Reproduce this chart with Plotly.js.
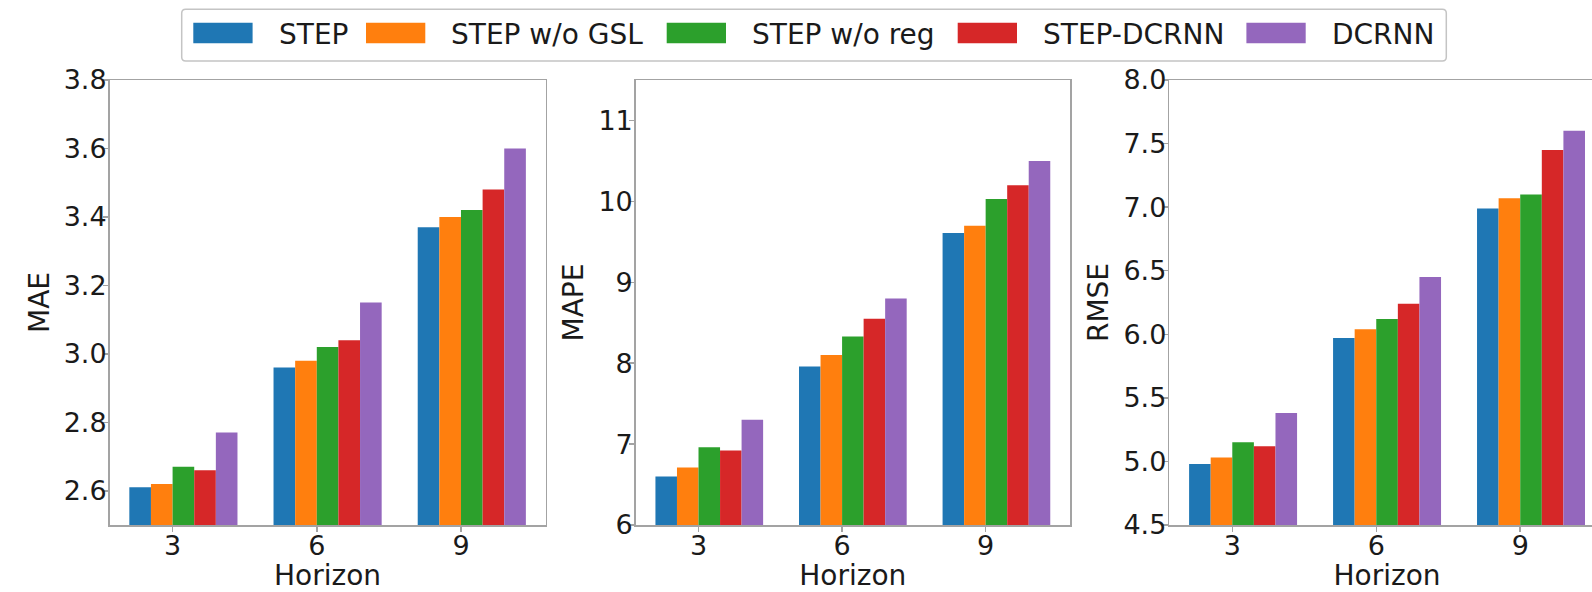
<!DOCTYPE html>
<html>
<head>
<meta charset="utf-8">
<script src="https://cdn.plot.ly/plotly-3.0.1.min.js"></script>
<style>
  html, body { margin: 0; padding: 0; overflow: hidden; background: #fff; }
  #chart { width: 1610px; height: 592px; }
</style>
</head>
<body>
<div id="chart"></div>
<script>
// Prediction horizons (x-axis) and compared models
const horizons = [3, 6, 9];
const models = ['STEP', 'STEP w/o GSL', 'STEP w/o reg', 'STEP-DCRNN', 'DCRNN'];
const colors = ['#1f77b4', '#ff7f0e', '#2ca02c', '#d62728', '#9467bd'];
const metrics = ['MAE', 'MAPE', 'RMSE'];

// One row per model, one column per horizon
const mae = [
  [2.61, 2.96, 3.37],
  [2.62, 2.98, 3.40],
  [2.67, 3.02, 3.42],
  [2.66, 3.04, 3.48],
  [2.77, 3.15, 3.60]
];
const mape = [
  [6.60, 7.96, 9.61],
  [6.71, 8.10, 9.70],
  [6.96, 8.33, 10.03],
  [6.92, 8.55, 10.20],
  [7.30, 8.80, 10.50]
];
const rmse = [
  [4.98, 5.97, 6.99],
  [5.03, 6.04, 7.07],
  [5.15, 6.12, 7.10],
  [5.12, 6.24, 7.45],
  [5.38, 6.45, 7.60]
];

// ---- layout constants (pixels) ----
const W = 1610, H = 592;
const FONT = 'DejaVu Sans, Liberation Sans, sans-serif';
const FS = 27;
const TXT = '#1a1a1a';
const AXC = '#a3a3a3';
const panelX = [[109.5, 545.7], [635.7, 1070], [1169.3, 1604.8]];
const panelTop = 80, panelBottom = 525;
const yRanges = [[2.5, 3.8], [6, 11.5], [4.5, 8]];
const yTick0 = [2.6, 6, 4.5];
const yDticks = [0.2, 1, 0.5];
const yFormats = ['.1f', 'd', '.1f'];
const barW = 0.45;                       // width of one bar in horizon units
const xRange = [1.6875, 10.7625];

const fx = p => p / W;
const fy = p => 1 - p / H;

const tables = [mae, mape, rmse];
const traces = [];
tables.forEach((tbl, k) => {
  const ax = k === 0 ? '' : String(k + 1);
  models.forEach((name, i) => {
    traces.push({
      type: 'bar',
      name: name,
      x: horizons,
      y: tbl[i],
      width: barW,
      offset: (i - 2) * barW,
      marker: { color: colors[i], line: { width: 0 } },
      xaxis: 'x' + ax,
      yaxis: 'y' + ax,
      showlegend: false,
      hovertemplate: name + '<br>Horizon %{x}: %{y}<extra></extra>'
    });
  });
});

const layout = {
  width: W, height: H,
  margin: { l: 0, r: 0, t: 0, b: 0, pad: 0 },
  paper_bgcolor: '#fff', plot_bgcolor: '#fff',
  barmode: 'overlay',
  font: { family: FONT, size: FS, color: TXT },
  showlegend: false,
  shapes: [],
  annotations: []
};

metrics.forEach((m, k) => {
  const ax = k === 0 ? '' : String(k + 1);
  layout['xaxis' + ax] = {
    domain: [fx(panelX[k][0]), fx(panelX[k][1])],
    anchor: 'y' + ax,
    range: xRange,
    tickvals: horizons,
    ticktext: horizons.map(String),
    ticks: 'outside', ticklen: 5, tickwidth: 1.5, tickcolor: AXC,
    ticklabelstandoff: -9,
    showline: true, mirror: true, linecolor: AXC, linewidth: 1.5,
    showgrid: false, zeroline: false,
    tickfont: { family: FONT, size: FS, color: TXT },
    title: { text: 'Horizon', font: { family: FONT, size: FS + 1, color: TXT }, standoff: 9 },
    fixedrange: true
  };
  layout['yaxis' + ax] = {
    domain: [fy(panelBottom), fy(panelTop)],
    anchor: 'x' + ax,
    range: yRanges[k],
    dtick: yDticks[k],
    tick0: yTick0[k],
    tickformat: yFormats[k],
    ticks: 'outside', ticklen: 5, tickwidth: 1.5, tickcolor: AXC,
    ticklabelstandoff: -9,
    showline: true, mirror: k < 2, linecolor: AXC, linewidth: 1.5,
    showgrid: false, zeroline: false,
    tickfont: { family: FONT, size: FS, color: TXT },
    title: { text: m, font: { family: FONT, size: FS + 1, color: TXT }, standoff: 6 },
    fixedrange: true
  };
});

// ---- legend: framed box with one colour patch per model ----
const box = { x0: 181.7, x1: 1446.3, y0: 9.3, y1: 61, r: 4 };
const rx = box.r / W, ry = box.r / H;
const bx0 = fx(box.x0), bx1 = fx(box.x1), by0 = fy(box.y1), by1 = fy(box.y0);
layout.shapes.push({
  type: 'path', xref: 'paper', yref: 'paper',
  path: `M ${bx0 + rx} ${by0} L ${bx1 - rx} ${by0} Q ${bx1} ${by0} ${bx1} ${by0 + ry} ` +
        `L ${bx1} ${by1 - ry} Q ${bx1} ${by1} ${bx1 - rx} ${by1} ` +
        `L ${bx0 + rx} ${by1} Q ${bx0} ${by1} ${bx0} ${by1 - ry} ` +
        `L ${bx0} ${by0 + ry} Q ${bx0} ${by0} ${bx0 + rx} ${by0} Z`,
  line: { color: '#c4c4c4', width: 1.5 },
  fillcolor: 'rgba(255,255,255,0.8)',
  layer: 'above'
});
const slotX = [193.3, 366, 666.7, 957.7, 1246.4];
const patchW = 59.3, patchTop = 22.7, patchBot = 43.3, textGap = 83.4;
models.forEach((name, i) => {
  layout.shapes.push({
    type: 'rect', xref: 'paper', yref: 'paper',
    x0: fx(slotX[i]), x1: fx(slotX[i] + patchW),
    y0: fy(patchBot), y1: fy(patchTop),
    fillcolor: colors[i], line: { width: 0 }, layer: 'above'
  });
  layout.annotations.push({
    xref: 'paper', yref: 'paper',
    x: fx(slotX[i] + textGap), y: fy(34),
    xanchor: 'left', yanchor: 'middle',
    text: name, showarrow: false,
    font: { family: FONT, size: FS + 1, color: TXT }
  });
});

Plotly.newPlot('chart', traces, layout, { displayModeBar: false, staticPlot: true });
</script>
</body>
</html>
